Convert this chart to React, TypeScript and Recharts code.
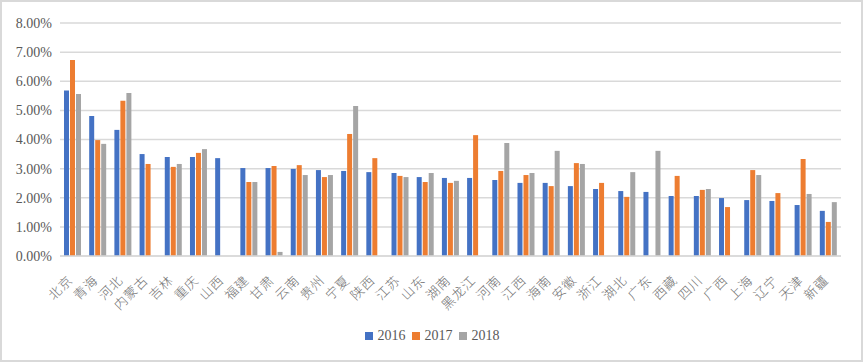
import { Bar, BarChart, CartesianGrid, Legend, XAxis, YAxis } from 'recharts';

const provinces = ['北京', '青海', '河北', '内蒙古', '吉林', '重庆', '山西', '福建', '甘肃', '云南', '贵州', '宁夏', '陕西', '江苏', '山东', '湖南', '黑龙江', '河南', '江西', '海南', '安徽', '浙江', '湖北', '广东', '西藏', '四川', '广西', '上海', '辽宁', '天津', '新疆'];

const v2016 = [5.68, 4.81, 4.33, 3.5, 3.4, 3.4, 3.36, 3.02, 3.02, 2.99, 2.95, 2.92, 2.88, 2.85, 2.71, 2.68, 2.68, 2.61, 2.51, 2.51, 2.4, 2.3, 2.23, 2.2, 2.06, 2.06, 1.99, 1.92, 1.89, 1.75, 1.55];
const v2017 = [6.73, 3.98, 5.33, 3.16, 3.06, 3.54, null, 2.54, 3.09, 3.12, 2.71, 4.19, 3.36, 2.75, 2.54, 2.51, 4.15, 2.92, 2.78, 2.4, 3.19, 2.51, 2.03, null, 2.75, 2.27, 1.68, 2.95, 2.16, 3.33, 1.17];
const v2018 = [5.56, 3.85, 5.6, null, 3.16, 3.67, null, 2.54, 0.14, 2.78, 2.78, 5.15, null, 2.71, 2.85, 2.58, null, 3.88, 2.85, 3.61, 3.16, null, 2.88, 3.61, null, 2.3, null, 2.78, null, 2.13, 1.85];

const yTicks = [0, 1, 2, 3, 4, 5, 6, 7, 8];

const data = provinces.map((name, i) => ({ name, a: v2016[i], b: v2017[i], c: v2018[i] }));

const serif = '"Liberation Serif", "Times New Roman", serif';

const ProvinceTick = (props: any) => {
  const { x, y, payload } = props;
  return (
    <g transform={`translate(${x + 1},${y + 17})`}>
      <text textAnchor='end' transform='rotate(-45)' fontSize={13} fill='#707070' fontWeight={300} fontFamily='"Noto Sans CJK SC", sans-serif' letterSpacing={1}>
        {payload.value}
      </text>
    </g>
  );
};

const LegendContent = (props: any) => (
  <div style={{ display: 'flex', justifyContent: 'center', gap: 6, fontFamily: serif, fontSize: 14, color: '#595959', lineHeight: '16px' }}>
    {(props.payload || []).map((p: any) => (
      <div key={p.value} style={{ display: 'flex', alignItems: 'center' }}>
        <span style={{ display: 'inline-block', width: 8, height: 8, background: p.color, marginRight: 5 }} />
        <span>{p.value}</span>
      </div>
    ))}
  </div>
);

const App = () => (
  <div style={{ position: 'absolute', left: 0, top: 0, width: 864, height: 364, background: '#fff' }}>
    <div style={{ position: 'absolute', left: 0, top: 0, width: 859, height: 358, border: '2px solid #d9d9d9' }} />
    <BarChart
      width={864}
      height={364}
      data={data}
      barSize={5}
      barGap={1}
      margin={{ top: 23, right: 23, left: 8, bottom: 0 }}
    >
      <CartesianGrid vertical={false} stroke='#d9d9d9' strokeWidth={1.5} />
      <XAxis
        dataKey='name'
        interval={0}
        height={92}
        tickLine={false}
        axisLine={{ stroke: '#d9d9d9', strokeWidth: 1.5 }}
        tick={<ProvinceTick />}
      />
      <YAxis
        width={52}
        domain={[0, 8]}
        ticks={yTicks}
        tickFormatter={(v: number) => `${v.toFixed(2)}%`}
        axisLine={false}
        tickLine={false}
        tick={{ fontSize: 14, fill: '#595959', fontFamily: serif }}
      />
      <Legend
        verticalAlign='bottom'
        content={<LegendContent />}
        wrapperStyle={{ bottom: 20, left: 0, width: 864 }}
      />
      <Bar dataKey='a' name='2016' fill='#4472c4' isAnimationActive={false} />
      <Bar dataKey='b' name='2017' fill='#ed7d31' isAnimationActive={false} />
      <Bar dataKey='c' name='2018' fill='#a5a5a5' isAnimationActive={false} />
    </BarChart>
  </div>
);

export default App;
